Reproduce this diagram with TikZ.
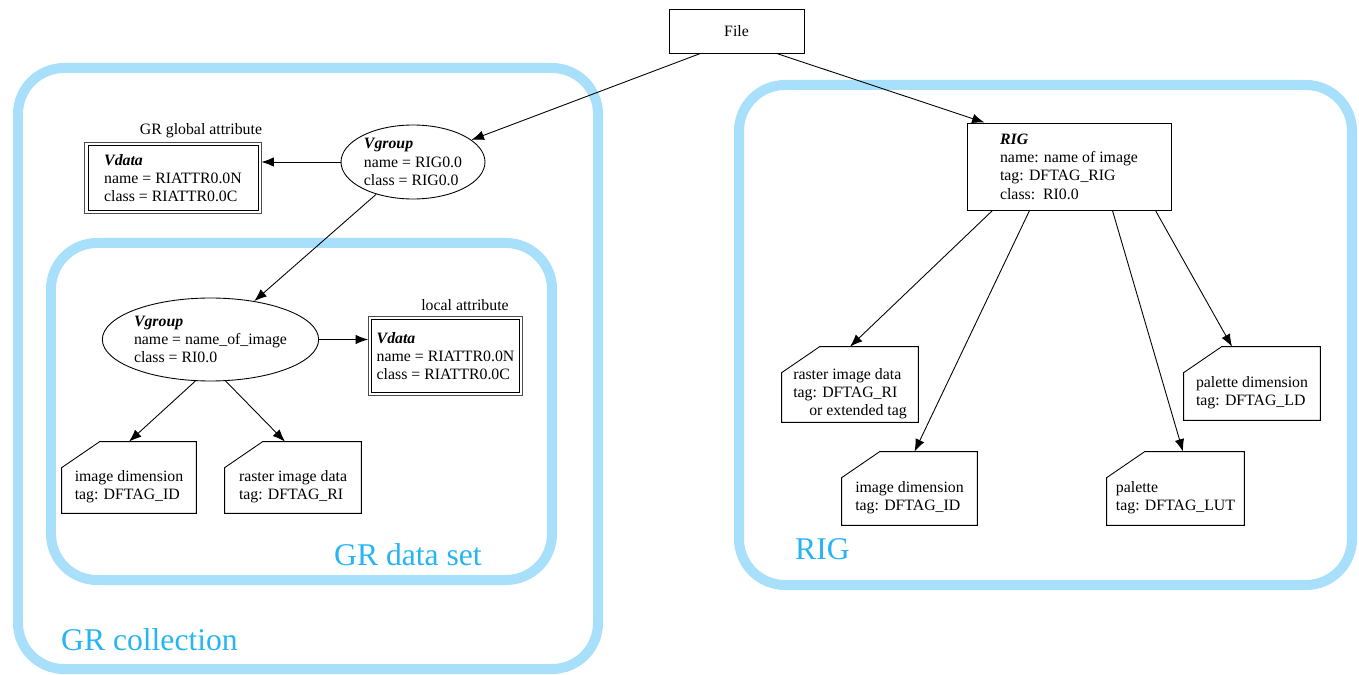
\documentclass[tikz,border=0pt]{standalone}
\usepackage{fontspec}
\setmainfont{Liberation Serif}
\usetikzlibrary{arrows.meta,shapes.geometric,calc}
\definecolor{bandblue}{RGB}{168,224,252}
\definecolor{labelblue}{RGB}{38,180,245}

\begin{document}
\begin{tikzpicture}[x=0.02cm,y=-0.02cm,
  every node/.style={font=\fontsize{9}{10.4}\selectfont},
  arr/.style={-{Latex[length=0.25cm,width=0.19cm]},line width=0.5pt},
  plainbox/.style={draw,rectangle,align=left,inner sep=0pt,line width=0.5pt},
  groupnode/.style={draw,ellipse,align=left,inner sep=0pt,line width=0.5pt},
  foldbox/.style={rectangle,align=left,inner sep=0pt,minimum height=1.1cm},
  band/.style={draw=bandblue,line width=0.2cm,rounded corners=0.92cm},
  bandlabel/.style={anchor=base west,text=labelblue,font=\fontsize{18}{20}\selectfont}]
\useasboundingbox (0,0) rectangle (1359,675);

\draw[band] (18,68) rectangle (598,669);
\draw[band] (51,243) rectangle (552,580);
\draw[band] (739,85) rectangle (1352,585);
\node[bandlabel] (collectlbl) at (55,650) {GR collection};
\node[bandlabel] (setlbl) at (328,565) {GR data set};
\node[bandlabel] (riglbl) at (789,559) {RIG};

\node[plainbox,align=center,minimum width=2.7cm,minimum height=0.88cm] (file) at (736.5,31) {File};
\node[groupnode,minimum width=2.88cm,minimum height=1.48cm] (vg1) at (413,162) {\textbf{\textit{Vgroup}}\\name = RIG0.0\\class = RIG0.0};
\node[plainbox,minimum width=3.4cm,minimum height=1.3cm] (vdata1) at (173,178) {\textbf{\textit{Vdata}}\\name = RIATTR0.0N\\class = RIATTR0.0C};
\node (globallbl) at (201,131) {GR global attribute};
\node[groupnode,minimum width=4.3cm,minimum height=1.66cm] (vg2) at (210.5,339.5) {\textbf{\textit{Vgroup}}\\name = name\_of\_image\\class = RI0.0};
\node[plainbox,minimum width=2.96cm,minimum height=1.46cm] (vdata2) at (445.5,356) {\textbf{\textit{Vdata}}\\name = RIATTR0.0N\\class = RIATTR0.0C};
\node (locallbl) at (465,305) {local attribute};
\node[foldbox,minimum width=2.68cm,minimum height=1.06cm] (imgdimA) at (129,486.5) {image dimension\\tag: DFTAG\_ID};
\node[foldbox,minimum width=2.72cm,minimum height=1.06cm] (rasterA) at (293,486.5) {raster image data\\tag: DFTAG\_RI};

\node[plainbox,minimum width=4.08cm,minimum height=1.74cm] (rig) at (1069,166.5) {\textbf{\textit{RIG}}\\name: name of image\\tag: DFTAG\_RIG\\class:\ \ RI0.0};
\node[foldbox,minimum width=2.72cm,minimum height=1.14cm] (rasterB) at (850,393.5) {raster image data\\tag: DFTAG\_RI\\\hspace*{0.32cm}or extended tag};
\node[foldbox,minimum width=2.7cm] (imgdimB) at (909.5,497.5) {image dimension\\tag: DFTAG\_ID};
\node[foldbox,minimum width=2.74cm] (paletteB) at (1175.5,497.5) {palette\\tag: DFTAG\_LUT};
\node[foldbox,minimum width=2.72cm] (paldimB) at (1252,392.5) {palette dimension\\tag: DFTAG\_LD};

\foreach \n in {vdata1,vdata2}
  \draw[line width=0.5pt,black!70] ($(\n.north west)+(-0.06cm,0.06cm)$) rectangle ($(\n.south east)+(0.06cm,-0.06cm)$);
\foreach \n in {imgdimA,rasterA,rasterB,imgdimB,paletteB,paldimB}
  \draw[line width=0.5pt] ($(\n.north west)+(0cm,-0.16cm)$) -- ($(\n.north west)+(0.76cm,0.36cm)$)
    -- ($(\n.north east)+(0cm,0.36cm)$) -- (\n.south east) -- (\n.south west) -- cycle;

\draw[arr] ([xshift=-0.72cm]file.south) -- (vg1);
\draw[arr] ([xshift=0.8cm]file.south) -- ([xshift=0.36cm]rig.north west);
\draw[arr] (vg1.west) -- ([xshift=0.06cm]vdata1.east |- vg1.west);
\draw[arr] (vg1) -- (vg2);
\draw[arr] (vg2.east) -- ([xshift=-0.06cm]vdata2.west |- vg2.east);
\draw[arr] (vg2.250) -- ([yshift=0.36cm]imgdimA.north);
\draw[arr] (vg2.290) -- ([xshift=-0.16cm,yshift=0.36cm]rasterA.north);
\draw[arr] ([xshift=0.52cm]rig.south west) -- ([yshift=0.36cm]rasterB.north);
\draw[arr] ([xshift=1.26cm]rig.south west) -- ([xshift=0.1cm,yshift=0.36cm]imgdimB.north);
\draw[arr] ([xshift=-1.18cm]rig.south east) -- ([xshift=0.15cm,yshift=0.36cm]paletteB.north);
\draw[arr] ([xshift=-0.32cm]rig.south east) -- ([xshift=-0.4cm,yshift=0.36cm]paldimB.north);
\end{tikzpicture}
\end{document}
